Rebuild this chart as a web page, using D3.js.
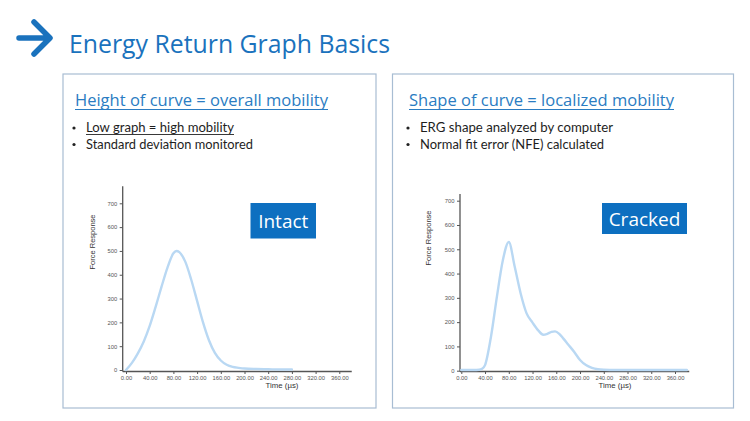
<!DOCTYPE html>
<html><head><meta charset="utf-8">
<script src="https://cdn.jsdelivr.net/npm/d3@7"></script>
<style>body{margin:0;background:#fff}svg{display:block}</style>
</head><body>
<script>
const timeTicks = [0,40,80,120,160,200,240,280,320,360];
const forceTicks = [0,100,200,300,400,500,600,700];
const intactTime  = [0,10,20,30,40,50,60,70,80,85,90,100,110,120,130,140,150,160,170,180,190,200,220,240,260,280];
const intactForce = [0,30,70,120,185,265,350,430,490,500,495,455,380,290,200,125,72,40,22,13,9,6,4,3,2,2];
const crackedTime  = [0,10,20,30,35,40,50,60,70,80,90,100,110,120,130,138,145,152,158,165,172,180,190,200,210,220,230,240,260,300,340,380];
const crackedForce = [3,3,3,4,8,23,140,305,455,530,428,318,236,198,165,148,152,160,162,152,132,108,78,44,23,12,6,4,3,3,3,3];

const W=750,H=421;
const svg=d3.select("body").append("svg").attr("width",W).attr("height",H);
const blue="#1a72bd";
svg.append("path").attr("d","M19,38 L49,38 M34,22 L50,38 L34,54")
  .attr("fill","none").attr("stroke",blue).attr("stroke-width",5.5).attr("stroke-linecap","round").attr("stroke-linejoin","round");
svg.append("text").attr("x",69).attr("y",53).attr("fill",blue)
  .attr("font-family","Open Sans, sans-serif").attr("font-size",25.5).attr("textLength",321).attr("lengthAdjust","spacingAndGlyphs")
  .text("Energy Return Graph Basics");

function panel(o){
  const g=svg.append("g");
  g.append("rect").attr("x",o.px).attr("y",74).attr("width",o.pw).attr("height",334)
    .attr("fill","#fff").attr("stroke","#a8bdd3").attr("stroke-width",1.2);
  g.append("text").attr("x",o.hx).attr("y",106).attr("fill","#2a7cc2")
    .attr("font-family","Open Sans, sans-serif").attr("font-size",17).attr("textLength",o.hw).attr("lengthAdjust","spacingAndGlyphs")
    .text(o.heading);
  g.append("line").attr("x1",o.hx).attr("x2",o.hx+o.hw).attr("y1",109.5).attr("y2",109.5).attr("stroke","#2a7cc2").attr("stroke-width",1.2);
  o.bullets.forEach((b,i)=>{
    const y=132+i*16.5;
    g.append("circle").attr("cx",o.hx-1).attr("cy",y-4).attr("r",1.6).attr("fill","#222");
    g.append("text").attr("x",o.hx+11).attr("y",y).attr("fill","#1e1e1e")
      .attr("font-family","Lato, sans-serif").attr("font-size",12.5).attr("textLength",b.w).attr("lengthAdjust","spacingAndGlyphs").text(b.t);
    if(b.u){
      g.append("line").attr("x1",o.hx+11).attr("x2",o.hx+11+b.w).attr("y1",y+2.5).attr("y2",y+2.5).attr("stroke","#222").attr("stroke-width",0.9);
    }
  });
  const x=d3.scaleLinear().domain([0,360]).range(o.xr);
  const y=d3.scaleLinear().domain([0,700]).range(o.yr);
  const ax="#555";
  const xa=g.append("g").attr("transform",`translate(0,${o.xAxisY})`)
    .call(d3.axisBottom(x).tickValues(timeTicks).tickFormat(d3.format(".2f")).tickSize(2.5).tickPadding(2));
  xa.select(".domain").remove();
  xa.append("line").attr("x1",o.yAxisX).attr("x2",x(o.xEnd)).attr("stroke",ax).attr("stroke-width",1.3);
  xa.selectAll(".tick line").attr("stroke",ax);
  xa.selectAll(".tick text").attr("fill","#555").attr("font-size",5.8).attr("font-family","Liberation Sans, Arial, sans-serif");
  const ya=g.append("g").attr("transform",`translate(${o.yAxisX},0)`)
    .call(d3.axisLeft(y).tickValues(forceTicks).tickSize(3).tickPadding(2.5));
  ya.select(".domain").remove();
  ya.append("line").attr("y1",o.xAxisY).attr("y2",y(o.yTop)).attr("stroke",ax).attr("stroke-width",1.3);
  ya.selectAll(".tick line").attr("stroke",ax);
  ya.selectAll(".tick text").attr("fill","#555").attr("font-size",5.8).attr("font-family","Liberation Sans, Arial, sans-serif");
  g.append("text").attr("x",o.tx).attr("y",388).attr("text-anchor","middle").attr("fill","#333")
    .attr("font-family","Liberation Sans, Arial, sans-serif").attr("font-size",7.8).text("Time  (µs)");
  g.append("text").attr("transform",`translate(${o.fx},${o.fy}) rotate(-90)`).attr("text-anchor","middle").attr("fill","#333")
    .attr("font-family","Liberation Sans, Arial, sans-serif").attr("font-size",7.5).text("Force Response");
  const data=o.time.map((t,i)=>[t,o.force[i]]);
  g.append("path").datum(data).attr("fill","none").attr("stroke","#b9d8f3").attr("stroke-width",2.4)
    .attr("stroke-linecap","round")
    .attr("d",d3.line().x(d=>x(d[0])).y(d=>y(d[1])).curve(d3.curveMonotoneX));
  g.append("rect").attr("x",o.bx).attr("y",203).attr("width",o.bw).attr("height",o.bh).attr("fill","#0d6fc0");
  g.append("text").attr("x",o.bx+o.bw/2).attr("y",203+o.bh/2+7).attr("text-anchor","middle").attr("fill","#fff")
    .attr("font-family","Open Sans, sans-serif").attr("font-size",19).text(o.label);
}

panel({px:63,pw:313,hx:75,hw:253,heading:"Height of curve = overall mobility",
  bullets:[{t:"Low graph = high mobility",u:true,w:148},{t:"Standard deviation monitored",w:167}],
  xr:[126,339.3],yr:[370,203.3],xAxisY:371.5,yAxisX:122.7,xEnd:381,yTop:772,
  tx:282,fx:95,fy:242,time:intactTime,force:intactForce,bx:250.5,bw:65.5,bh:35.5,label:"Intact"});
panel({px:392.5,pw:341,hx:409,hw:265,heading:"Shape of curve = localized mobility",
  bullets:[{t:"ERG shape analyzed by computer",w:193},{t:"Normal fit error (NFE) calculated",w:184}],
  xr:[461.3,675],yr:[370.7,200.7],xAxisY:371.5,yAxisX:460,xEnd:384,yTop:728,
  tx:615,fx:431,fy:238,time:crackedTime,force:crackedForce,bx:602,bw:85,bh:31,label:"Cracked"});
</script>
</body></html>
